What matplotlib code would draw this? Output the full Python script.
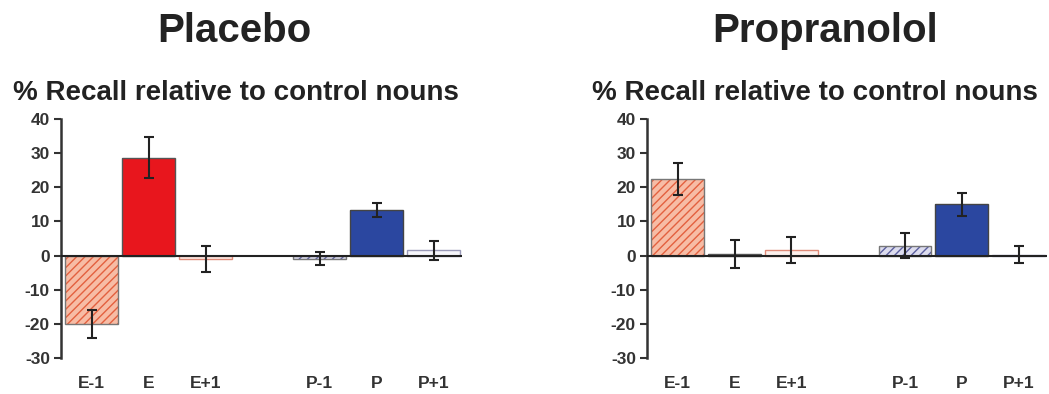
import matplotlib.pyplot as plt

plt.rcParams['font.family'] = ['Liberation Sans', 'DejaVu Sans']
plt.rcParams['axes.unicode_minus'] = False

labels = ['E-1', 'E', 'E+1', 'P-1', 'P', 'P+1']
positions = [0, 1, 2, 4, 5, 6]

placebo = [-20, 28.7, -1, -0.9, 13.3, 1.5]
placebo_err = [4.1, 5.9, 3.8, 1.9, 2.0, 2.7]

propranolol = [22.3, 0.5, 1.5, 2.9, 15.0, 0.2]
propranolol_err = [4.7, 4.1, 3.8, 3.7, 3.4, 2.5]

faces = ['#f7bca5', '#e8161d', '#fdf0ec', '#dcdcee', '#2b47a0', '#f6f6fb']
hatch_colors = ['#e3603f', '#555555', '#e08a78', '#5b5f9e', '#444444', '#9a9ab8']
hatches = ['////', '', '', '////', '', '']

fig = plt.figure(figsize=(10.49, 3.94), dpi=100)
ax1 = fig.add_axes([0.0582, 0.0914, 0.3823, 0.6066])
ax2 = fig.add_axes([0.6168, 0.0914, 0.3813, 0.6066])


def panel(ax, vals, errs, title, tx, sx):
    for x, v, f, hc, h in zip(positions, vals, faces, hatch_colors, hatches):
        ax.bar(x, v, width=0.93, color=f, edgecolor=hc, hatch=h, linewidth=0)
        ax.bar(x, v, width=0.93, fill=False, edgecolor=hc if h == '' else '#777777', linewidth=1.0)
    ax.axhline(0, color='#222222', lw=1.5, zorder=3)
    ax.errorbar(positions, vals, yerr=errs, fmt='none', ecolor='#222222',
                elinewidth=1.5, capsize=3.5, capthick=1.5, zorder=4)
    ax.set_xlim(-0.54, 6.5)
    ax.set_ylim(-30, 40)
    ax.set_yticks(range(-30, 41, 10))
    ax.set_xticks(positions)
    ax.set_xticklabels(labels)
    for s in ['top', 'right', 'bottom']:
        ax.spines[s].set_visible(False)
    ax.spines['left'].set_color('#333333')
    ax.spines['left'].set_linewidth(1.8)
    ax.tick_params(axis='y', length=5, width=1.5, color='#333333', pad=3)
    ax.tick_params(axis='x', length=0, pad=13)
    for t in ax.get_xticklabels() + ax.get_yticklabels():
        t.set_fontsize(12.5)
        t.set_fontweight('bold')
        t.set_color('#333333')
    fig.text(tx, 0.922, title, ha='center', va='center', fontsize=29,
             fontweight='bold', color='#222222')
    fig.text(sx, 0.765, '% Recall relative to control nouns', ha='center', va='center',
             fontsize=20, fontweight='bold', color='#222222')


panel(ax1, placebo, placebo_err, 'Placebo', 0.223, 0.225)
panel(ax2, propranolol, propranolol_err, 'Propranolol', 0.787, 0.777)

fig.savefig('out.png', dpi=100)
